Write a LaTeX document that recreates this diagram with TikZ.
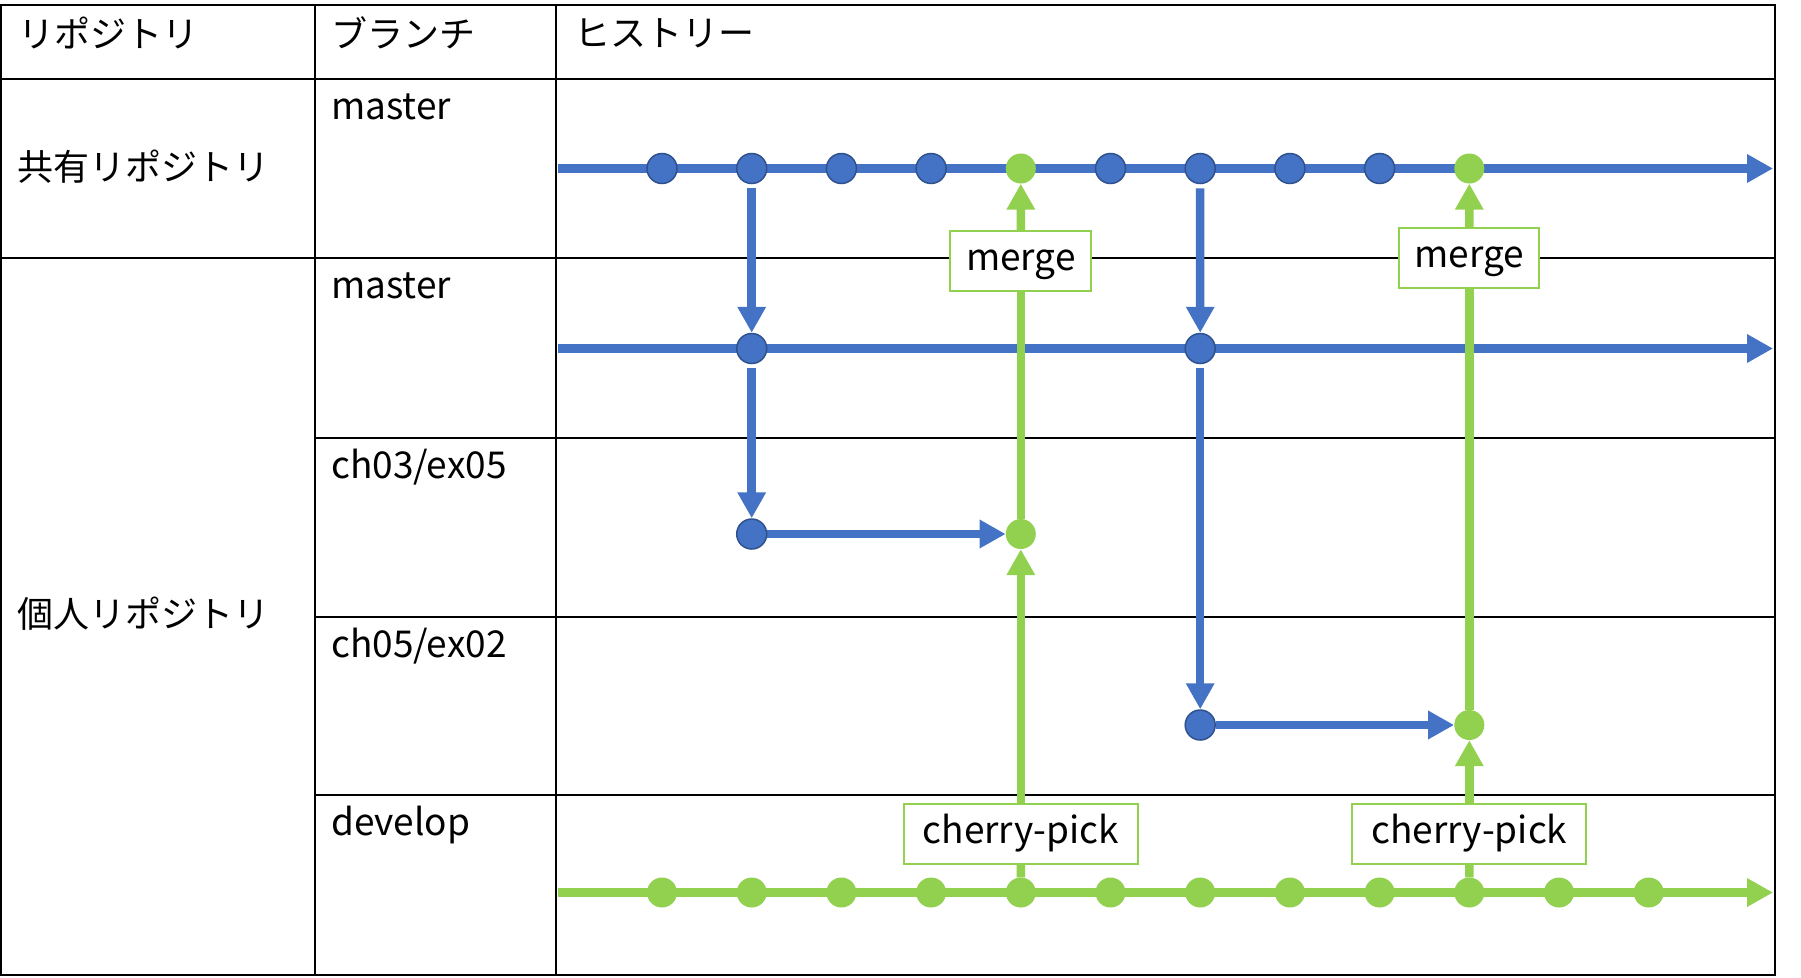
\documentclass[tikz,border=0pt]{standalone}
\usepackage{fontspec}
\setmainfont{Noto Sans CJK JP}
\usetikzlibrary{arrows.meta,shapes.geometric,backgrounds}
\definecolor{gblue}{HTML}{4472C4}
\definecolor{gbluedark}{HTML}{2F528F}
\definecolor{ggreen}{HTML}{92D050}
\newcommand{\jpsz}{\fontsize{36}{42}\selectfont}
\newcommand{\lasz}{\fontsize{37}{42}\selectfont}
\begin{document}
\begin{tikzpicture}[x=1pt,y=-1pt,
  tbl/.style={line width=2pt, draw=black},
  bdot/.style={circle, fill=gblue, draw=gbluedark, line width=1.5pt, minimum size=30pt, inner sep=0pt},
  gdot/.style={circle, fill=ggreen, minimum size=30pt, inner sep=0pt},
  bline/.style={draw=gblue, line width=8.5pt},
  gline/.style={draw=ggreen, line width=8.5pt},
  headtip/.style={-{Triangle[length=26pt,width=27pt]}},
  lblbox/.style={draw=ggreen, line width=2pt, fill=white, minimum height=60pt, inner sep=0pt, text height=18pt, text depth=0pt, font=\lasz},
  hdrtext/.style={anchor=west, inner sep=0pt, font=\jpsz},
  brtext/.style={anchor=base west, inner sep=0pt, font=\lasz}
]
\useasboundingbox (0,0) rectangle (1801,977);

% ---- texts ----
\node[hdrtext] (h1) at (18,33) {リポジトリ};
\node[hdrtext] (h2) at (331,33) {ブランチ};
\node[hdrtext] (h3) at (574,33) {ヒストリー};
\node[hdrtext] (r1) at (17,167) {共有リポジトリ};
\node[hdrtext] (r2) at (17,614) {個人リポジトリ};
\node[brtext] (b1) at (331,119) {master};
\node[brtext] (b2) at (331,298) {master};
\node[brtext] (b3) at (331,478) {ch03/ex05};
\node[brtext] (b4) at (331,657) {ch05/ex02};
\node[brtext] (b5) at (331,835) {develop};

% ---- dots ----
\foreach \i in {0,1,2,3,5,6,7,8} \node[bdot] (sm\i) at ({662+89.7*\i},168.5) {};
\foreach \i in {4,9} \node[gdot] (sm\i) at ({662+89.7*\i},168.5) {};
\foreach \i in {0,...,11} \node[gdot] (dv\i) at ({662+89.7*\i},892.5) {};
\node[bdot] (pm1) at (751.7,348.5) {};
\node[bdot] (pm6) at (1200.2,348.5) {};
\node[bdot] (c3b) at (751.7,534) {};
\node[gdot] (c3g) at (1020.8,534) {};
\node[bdot] (c5b) at (1200.2,725) {};
\node[gdot] (c5g) at (1469.3,725) {};

% ---- labels ----
\node[lblbox, minimum width=141pt] (mg1) at (1020.8,261) {merge};
\node[lblbox, minimum width=140pt] (mg2) at (1469.3,258) {merge};
\node[lblbox, minimum width=234pt] (cp1) at (1020.8,834) {cherry-pick};
\node[lblbox, minimum width=234pt] (cp2) at (1469.3,834) {cherry-pick};

\coordinate (smS) at (558,168.5);  \coordinate (smE) at (1773,168.5);
\coordinate (pmS) at (558,348.5);  \coordinate (pmE) at (1773,348.5);
\coordinate (dvS) at (558,892.5);  \coordinate (dvE) at (1773,892.5);

\begin{pgfonlayer}{background}
  \fill[white] (0,0) rectangle (1801,977);
  % table
  \draw[tbl] (1,5) rectangle (1775,975);
  \draw[tbl] (315,5) -- (315,975);
  \draw[tbl] (556,5) -- (556,975);
  \draw[tbl] (1,79) -- (1775,79);
  \draw[tbl] (1,258) -- (1775,258);
  \draw[tbl] (315,438) -- (1775,438);
  \draw[tbl] (315,617) -- (1775,617);
  \draw[tbl] (315,795) -- (1775,795);
  % blue
  \draw[bline,headtip] (smS) -- (smE);
  \draw[bline,headtip] (pmS) -- (pmE);
  \draw[bline,headtip,shorten <=4pt] (sm1) -- (pm1);
  \draw[bline,headtip,shorten <=4pt] (pm1) -- (c3b);
  \draw[bline,headtip] (c3b) -- (c3g);
  \draw[bline,headtip,shorten <=4pt] (sm6) -- (pm6);
  \draw[bline,headtip,shorten <=4pt] (pm6) -- (c5b);
  \draw[bline,headtip] (c5b) -- (c5g);
  % green
  \draw[gline,headtip] (dvS) -- (dvE);
  \draw[gline] (dv4) -- (cp1);
  \draw[gline,headtip] (cp1) -- (c3g);
  \draw[gline] (c3g) -- (mg1);
  \draw[gline,headtip] (mg1) -- (sm4);
  \draw[gline] (dv9) -- (cp2);
  \draw[gline,headtip] (cp2) -- (c5g);
  \draw[gline] (c5g) -- (mg2);
  \draw[gline,headtip] (mg2) -- (sm9);
\end{pgfonlayer}
\end{tikzpicture}
\end{document}
